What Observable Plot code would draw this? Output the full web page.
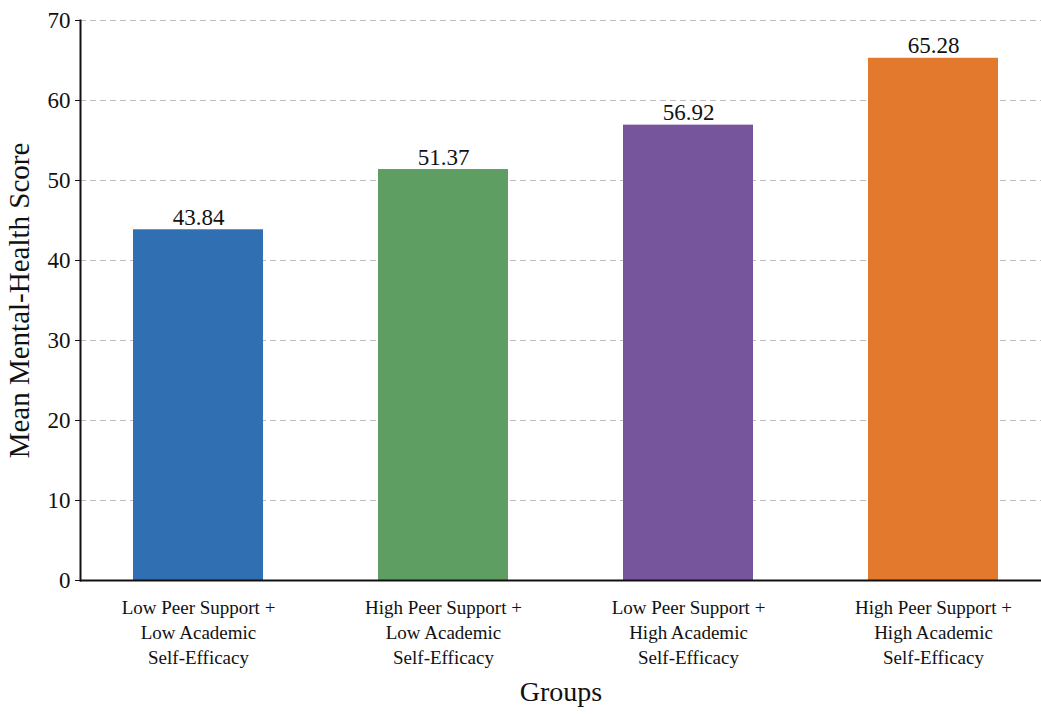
<!DOCTYPE html>
<html>
<head>
<meta charset="utf-8">
<script src="https://cdn.jsdelivr.net/npm/d3@7"></script>
<script src="https://cdn.jsdelivr.net/npm/@observablehq/plot@0.6"></script>
<style>
  html, body { margin: 0; padding: 0; background: #ffffff; }
  #chart svg { display: block; }
</style>
</head>
<body>
<div id="chart"></div>
<script>
// Mean mental-health score by peer-support / academic self-efficacy group
const groups = [
  "Low Peer Support +\nLow Academic\nSelf-Efficacy",
  "High Peer Support +\nLow Academic\nSelf-Efficacy",
  "Low Peer Support +\nHigh Academic\nSelf-Efficacy",
  "High Peer Support +\nHigh Academic\nSelf-Efficacy"
];
const scores = [43.84, 51.37, 56.92, 65.28];
const barColors = ["#2f6fb2", "#5e9e63", "#76559d", "#e2792c"];
const yTicks = [0, 10, 20, 30, 40, 50, 60, 70];

const data = groups.map((g, i) => ({group: g, score: scores[i], color: barColors[i]}));

const font = "'Liberation Serif', 'Times New Roman', serif";

const chart = Plot.plot({
  width: 1041,
  height: 716,
  marginTop: 20,
  marginBottom: 136,
  marginLeft: 80,
  marginRight: 0,
  style: {fontFamily: font, background: "#ffffff", color: "#111"},
  x: {domain: groups, range: [83, 1047], paddingInner: 0.47, paddingOuter: 0.2},
  y: {domain: [0, 70]},
  marks: [
    Plot.gridY(yTicks.filter(d => d > 0), {stroke: "#bdbdbd", strokeOpacity: 1, strokeDasharray: "6,4", strokeWidth: 1}),
    Plot.barY(data, {x: "group", y: "score", fill: "color"}),
    Plot.text(data, {x: "group", y: "score", text: d => d.score.toFixed(2), lineAnchor: "bottom", dy: -5, fontSize: 23, fill: "#111"}),
    Plot.axisY(yTicks, {tickSize: 5, tickPadding: 5, fontSize: 23, label: "Mean Mental-Health Score", labelAnchor: "center", labelOffset: 72, labelArrow: "none"}),
    Plot.axisX({tickSize: 0, tickPadding: 16, fontSize: 19, lineHeight: 1.32, label: "Groups", labelAnchor: "center", labelOffset: 120, labelArrow: "none"}),
    Plot.frame({anchor: "left", stroke: "#111", strokeWidth: 2}),
    Plot.ruleY([0], {stroke: "#111", strokeWidth: 2})
  ]
});

// enlarge axis titles
chart.querySelectorAll("[aria-label='y-axis label'], [aria-label='x-axis label']").forEach(g => {
  g.setAttribute("font-size", g.getAttribute("aria-label").startsWith("y") ? 29 : 28);
});

document.getElementById("chart").appendChild(chart);
</script>
</body>
</html>
